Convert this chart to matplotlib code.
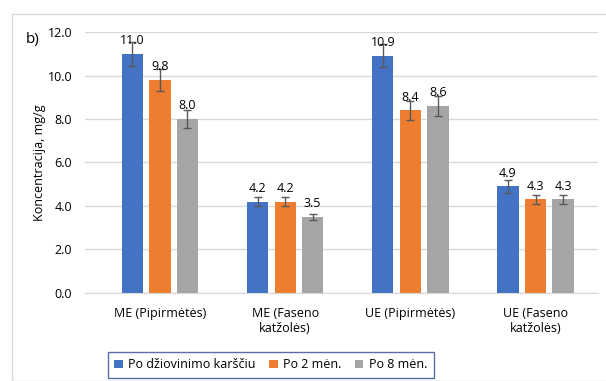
import numpy as np
import matplotlib.pyplot as plt
from matplotlib.patches import Rectangle

plt.rcParams['font.family'] = ['Open Sans', 'DejaVu Sans']

categories = ['ME (Pipirmėtės)', 'ME (Faseno\nkatžolės)', 'UE (Pipirmėtės)', 'UE (Faseno\nkatžolės)']
series = ['Po džiovinimo karščiu', 'Po 2 mėn.', 'Po 8 mėn.']
values = [
    [11.0, 4.2, 10.9, 4.9],
    [9.8, 4.2, 8.4, 4.3],
    [8.0, 3.5, 8.6, 4.3],
]
errors = [
    [0.55, 0.2, 0.53, 0.28],
    [0.5, 0.2, 0.43, 0.2],
    [0.4, 0.15, 0.45, 0.2],
]
colors = ['#4472c4', '#ed7d31', '#a5a5a5']
fs = 9

fig = plt.figure(figsize=(6.06, 3.81), dpi=100)
ax = fig.add_axes([0.14, 0.231, 0.847, 0.685])

# chart border
fig.patches.append(Rectangle((12 / 606, 0), 1, 1 - 14 / 381, transform=fig.transFigure,
                             fill=False, edgecolor='#d9d9d9', linewidth=1))

x = np.arange(len(categories))
width = 0.17
step = 0.22
for i, (vals, errs, c) in enumerate(zip(values, errors, colors)):
    pos = x + (i - 1) * step
    ax.bar(pos, vals, width, color=c, label=series[i], zorder=2)
    ax.errorbar(pos, vals, yerr=errs, fmt='none', ecolor='#595959', elinewidth=1,
                capsize=3, capthick=1, zorder=3)
    for p, v in zip(pos, vals):
        ax.text(p, v + 0.3, f'{v:.1f}', ha='center', va='bottom', fontsize=fs, color='#000000', zorder=4)

ax.set_ylim(0, 12)
ax.set_xlim(-0.6, 3.5)
ax.set_yticks(np.arange(0, 12.1, 2))
ax.set_yticklabels([f'{t:.1f}' for t in np.arange(0, 12.1, 2)], fontsize=fs)
ax.set_xticks(x)
ax.set_xticklabels(categories, fontsize=fs)
ax.tick_params(axis='y', length=0, pad=9)
ax.tick_params(axis='x', length=0, pad=10)
ax.grid(axis='y', color='#d9d9d9', linewidth=1, zorder=0)
for s in ['top', 'right', 'left']:
    ax.spines[s].set_visible(False)
ax.spines['bottom'].set_color('#d9d9d9')
ax.set_ylabel('Koncentracija, mg/g', fontsize=fs)
ax.yaxis.set_label_coords(-0.076, 0.5)

fig.text(26 / 606, 1 - 39 / 381, 'b)', fontsize=11, va='center', ha='left')

leg = fig.legend(loc='center', bbox_to_anchor=(0.447, 0.042), ncol=3, fontsize=fs,
                 frameon=True, fancybox=False, handlelength=0.65, handleheight=0.65,
                 handletextpad=0.45, columnspacing=1.1, borderpad=0.55, borderaxespad=0)
leg.get_frame().set_edgecolor('#2f4b8c')
leg.get_frame().set_linewidth(1)

fig.savefig('out.png', dpi=100)
